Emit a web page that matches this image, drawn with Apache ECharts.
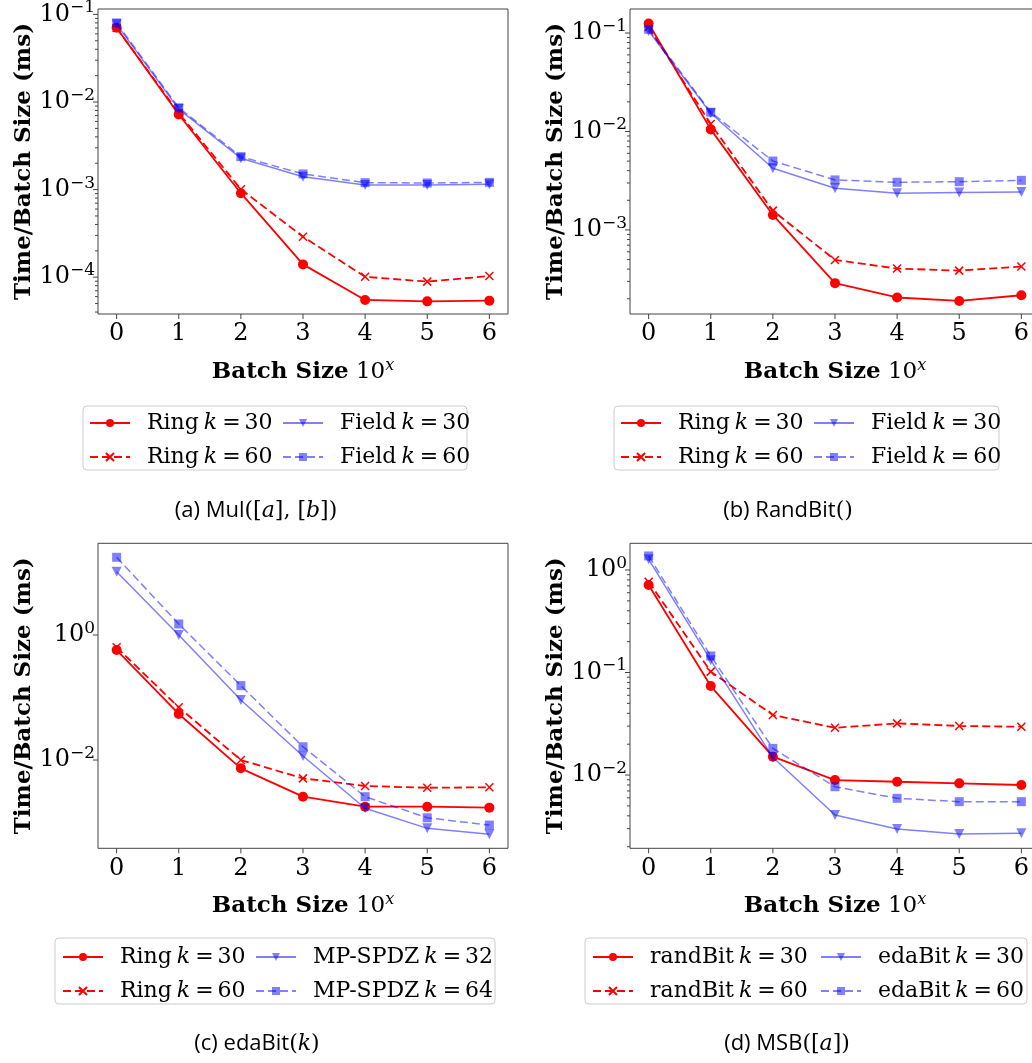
<!DOCTYPE html>
<html><head><meta charset="utf-8">
<script src="https://cdn.jsdelivr.net/npm/echarts@6/dist/echarts.min.js"></script>
<style>html,body{margin:0;padding:0;background:#fff}#c{width:1032px;height:1063px}</style>
</head><body><div id="c"></div>
<script>
// ---------- data ----------
const batch = [0, 1, 2, 3, 4, 5, 6];
const xTicks = [0, 1, 2, 3, 4, 5, 6];

// (a) Mul([a],[b])
const mulRing30  = [0.0705, 0.0072, 9.1e-4, 1.40e-4, 5.5e-5, 5.3e-5, 5.4e-5];
const mulRing60  = [0.0700, 0.0075, 1.01e-3, 2.9e-4, 1.01e-4, 8.9e-5, 1.03e-4];
const mulField30 = [0.077, 0.0083, 0.00228, 0.00140, 0.00113, 0.00113, 0.00115];
const mulField60 = [0.080, 0.0086, 0.00238, 0.00151, 0.00120, 0.00119, 0.00121];

// (b) RandBit()
const rbRing30  = [0.125, 0.0105, 0.00142, 2.88e-4, 2.06e-4, 1.90e-4, 2.17e-4];
const rbRing60  = [0.115, 0.0119, 0.00157, 4.96e-4, 4.05e-4, 3.86e-4, 4.25e-4];
const rbField30 = [0.105, 0.0153, 0.00423, 0.00265, 0.00236, 0.00240, 0.00243];
const rbField60 = [0.109, 0.0157, 0.00501, 0.00322, 0.00305, 0.00309, 0.00319];

// (c) edaBit(k)
const edaRing30 = [0.575, 0.0545, 0.00736, 0.00259, 0.00179, 0.00179, 0.00173];
const edaRing60 = [0.636, 0.0697, 0.0100, 0.00509, 0.00384, 0.00360, 0.00366];
const edaMP32   = [10.3, 1.0, 0.091, 0.0116, 0.00169, 8.07e-4, 6.5e-4];
const edaMP64   = [17.5, 1.5, 0.155, 0.0163, 0.00259, 0.00119, 9.1e-4];

// (d) MSB([a])
const msbRand30 = [0.714, 0.0738, 0.0151, 0.00893, 0.00860, 0.00830, 0.00800];
const msbRand60 = [0.769, 0.102, 0.0385, 0.0289, 0.0319, 0.0301, 0.0296];
const msbEda30  = [1.27, 0.132, 0.0149, 0.00407, 0.00297, 0.00266, 0.00270];
const msbEda60  = [1.37, 0.145, 0.0182, 0.00769, 0.00593, 0.00550, 0.00550];

// y-axis major tick exponents and ranges
const yExpA = [-4, -3, -2, -1];
const yExpB = [-3, -2, -1];
const yExpC = [-2, 0];
const yExpD = [-2, -1, 0];
const rangeA = [3.80e-5, 0.1153];
const rangeB = [1.40e-4, 0.1754];
const rangeC = [3.87e-4, 29.3];
const rangeD = [1.93e-3, 1.82];

const legA = [['Ring', '30'], ['Ring', '60'], ['Field', '30'], ['Field', '60']];
const legC = [['Ring', '30'], ['Ring', '60'], ['MP-SPDZ', '32'], ['MP-SPDZ', '64']];
const legD = [['randBit', '30'], ['randBit', '60'], ['edaBit', '30'], ['edaBit', '60']];

const capA = '{sf|(a) Mul}{m|([}{it|a}{m|], [}{it|b}{m|])}';
const capB = '{sf|(b) RandBit}{m|()}';
const capC = '{sf|(c) edaBit}{m|(}{it|k}{m|)}';
const capD = '{sf|(d) MSB}{m|([}{it|a}{m|])}';

const xName = '{b|Batch Size}{n| 10}{s|x}';
const yName = 'Time/Batch Size (ms)';

// ---------- layout ----------
const SERIF = 'DejaVu Serif';
const RED = '#ff0000', BLUE = 'rgba(0,0,255,0.5)';
const panels = [
  {id: 'a', grid: {left: 98, top: 9, width: 410, height: 305}, range: rangeA, exps: yExpA, minor: true,
   data: [mulRing30, mulRing60, mulField30, mulField60], leg: legA, lx: [84, 277], ly: 407, box: [83, 406, 384, 64], cap: capA, cp: [256, 511]},
  {id: 'b', grid: {left: 630, top: 9, width: 410, height: 305}, range: rangeB, exps: yExpB, minor: true,
   data: [rbRing30, rbRing60, rbField30, rbField60], leg: legA, lx: [615, 808], ly: 407, box: [614, 406, 385, 64], cap: capB, cp: [788, 511]},
  {id: 'c', grid: {left: 98, top: 543.3, width: 410, height: 305}, range: rangeC, exps: yExpC, minor: false,
   data: [edaRing30, edaRing60, edaMP32, edaMP64], leg: legC, lx: [57, 250], ly: 941, box: [55, 938, 440, 66], cap: capC, cp: [257, 1044]},
  {id: 'd', grid: {left: 630, top: 543.3, width: 410, height: 305}, range: rangeD, exps: yExpD, minor: true,
   data: [msbRand30, msbRand60, msbEda30, msbEda60], leg: legD, lx: [587, 815], ly: 941, box: [585, 938, 442, 66], cap: capD, cp: [787, 1044]}
];

const styles = [
  {color: RED, type: 'solid', symbol: 'circle', size: 10, rot: 0, w: 1.8},
  {color: RED, type: [8, 4], symbol: 'path://M0,0L10,10M0,10L10,0', size: 8, rot: 0, w: 1.8},
  {color: BLUE, type: 'solid', symbol: 'triangle', size: 10, rot: 180, w: 1.5},
  {color: BLUE, type: [8, 4], symbol: 'rect', size: 9, rot: 0, w: 1.5}
];

const LEGFS = 22;
const legRich = {
  f: {fontFamily: SERIF, fontSize: LEGFS, color: '#000', padding: [0, 0, 0, 12]},
  r: {fontFamily: SERIF, fontSize: LEGFS, color: '#000'},
  i: {fontFamily: SERIF, fontStyle: 'italic', fontSize: LEGFS, color: '#000', padding: [0, 0, 0, 5]},
  e: {fontFamily: SERIF, fontSize: LEGFS, color: '#000', padding: [0, 4, 0, 5]}
};

const grids = [], xAxes = [], yAxes = [], series = [], legends = [], graphics = [];

panels.forEach((p, pi) => {
  grids.push(Object.assign({show: true, borderColor: '#444', borderWidth: 1, backgroundColor: 'transparent',
    containLabel: false, outerBoundsMode: 'none'}, p.grid));
  xAxes.push({
    type: 'value', gridIndex: pi, min: -0.3, max: 6.3,
    axisLine: {show: false}, axisTick: {show: false}, splitLine: {show: false},
    axisLabel: {margin: 8, fontFamily: SERIF, fontSize: 24, color: '#000',
      formatter: v => (Math.abs(v - Math.round(v)) < 1e-9 && xTicks.indexOf(Math.round(v)) >= 0) ? String(Math.round(v)) : ''},
    name: xName, nameLocation: 'middle', nameGap: 44,
    nameTextStyle: {color: '#000', fontFamily: SERIF, fontSize: 23,
      rich: {b: {fontWeight: 'bold', fontFamily: SERIF, fontSize: 23, color: '#000'},
             n: {fontFamily: SERIF, fontSize: 23, color: '#000'},
             s: {fontFamily: SERIF, fontStyle: 'italic', fontSize: 16, color: '#000', padding: [0, 0, 12, 0]}}}
  });
  yAxes.push({
    type: 'log', logBase: 10, gridIndex: pi, min: p.range[0], max: p.range[1],
    axisLine: {show: false}, axisTick: {show: false}, splitLine: {show: false}, minorTick: {show: false},
    axisLabel: {margin: 3, color: '#000',
      formatter: v => {
        const e = Math.log10(v); const r = Math.round(e);
        if (Math.abs(e - r) > 1e-6 || p.exps.indexOf(r) < 0) return '';
        return '{n|10}{s|' + (r < 0 ? '\u2212' + (-r) : String(r)) + '}';
      },
      rich: {n: {fontFamily: SERIF, fontSize: 24, color: '#000'},
             s: {fontFamily: SERIF, fontSize: 17, color: '#000', padding: [0, 0, 13, 0]}}},
    name: yName, nameLocation: 'middle', nameGap: 62, nameRotate: 90,
    nameTextStyle: {color: '#000', fontFamily: SERIF, fontSize: 23, fontWeight: 'bold'}
  });

  p.data.forEach((arr, k) => {
    const s = styles[k];
    series.push({
      type: 'line', name: p.id + k, xAxisIndex: pi, yAxisIndex: pi,
      data: batch.map((x, i) => [x, arr[i]]),
      symbol: s.symbol, symbolSize: s.size, symbolRotate: s.rot, showSymbol: true,
      lineStyle: {color: s.color, width: s.w, type: s.type},
      itemStyle: k === 1 ? {color: s.color, borderColor: s.color, borderWidth: 1.5} : {color: s.color, borderWidth: 0},
      emphasis: {disabled: true}, animation: false, z: 3 + k
    });
  });

  // tick marks (major/minor y, x) drawn through the axis scales
  const td = [];
  p.exps.forEach(e => td.push([0, Math.pow(10, e), 0]));
  if (p.minor) {
    const lo = Math.floor(Math.log10(p.range[0])), hi = Math.ceil(Math.log10(p.range[1]));
    for (let e = lo; e <= hi; e++) for (let m = 2; m <= 9; m++) {
      const v = m * Math.pow(10, e);
      if (v > p.range[0] && v < p.range[1]) td.push([0, v, 1]);
    }
  }
  xTicks.forEach(x => td.push([x, Math.pow(10, p.exps[0]), 2]));
  series.push({
    type: 'custom', xAxisIndex: pi, yAxisIndex: pi, clip: false, silent: true, animation: false, z: 10,
    data: td,
    renderItem: (params, api) => {
      const cs = params.coordSys;
      const kind = api.value(2);
      const pt = api.coord([api.value(0), api.value(1)]);
      if (kind === 2) {
        const y0 = cs.y + cs.height;
        return {type: 'line', shape: {x1: pt[0], y1: y0, x2: pt[0], y2: y0 + 5}, style: {stroke: '#444', lineWidth: 1}};
      }
      const len = kind === 0 ? 5 : 3;
      return {type: 'line', shape: {x1: cs.x - len, y1: pt[1], x2: cs.x, y2: pt[1]}, style: {stroke: '#444', lineWidth: 1}};
    }
  });

  // legends: two columns
  const legText = {};
  [0, 1, 2, 3].forEach(k => legText[p.id + k] = '{f|' + p.leg[k][0] + '}{i|k}{e|=}{r|' + p.leg[k][1] + '}');
  [0, 1].forEach(col => {
    legends.push({
      orient: 'vertical', left: p.lx[col], top: p.ly, itemWidth: 40, itemHeight: 10, itemGap: 12,
      selectedMode: false, data: [p.id + (col * 2), p.id + (col * 2 + 1)],
      formatter: name => legText[name],
      textStyle: {fontFamily: SERIF, fontSize: LEGFS, color: '#000', rich: legRich}
    });
  });
  graphics.push({type: 'rect', z: 0, shape: {x: p.box[0], y: p.box[1], width: p.box[2], height: p.box[3], r: 4},
    style: {fill: 'rgba(255,255,255,0.8)', stroke: '#cccccc', lineWidth: 1}});
  graphics.push({type: 'text', z: 5, x: p.cp[0], y: p.cp[1],
    style: {text: p.cap, align: 'center', verticalAlign: 'middle', fill: '#000',
      rich: {sf: {fontFamily: 'Open Sans', fontSize: 22, fill: '#000', color: '#000'},
             m: {fontFamily: SERIF, fontSize: 22, fill: '#000', color: '#000'},
             it: {fontFamily: SERIF, fontStyle: 'italic', fontSize: 22, fill: '#000', color: '#000'}}}});
});

const chart = echarts.init(document.getElementById('c'), null, {renderer: 'canvas'});
chart.setOption({
  animation: false,
  backgroundColor: '#fff',
  textStyle: {fontFamily: SERIF},
  grid: grids, xAxis: xAxes, yAxis: yAxes, series: series, legend: legends, graphic: graphics
});
</script></body></html>
